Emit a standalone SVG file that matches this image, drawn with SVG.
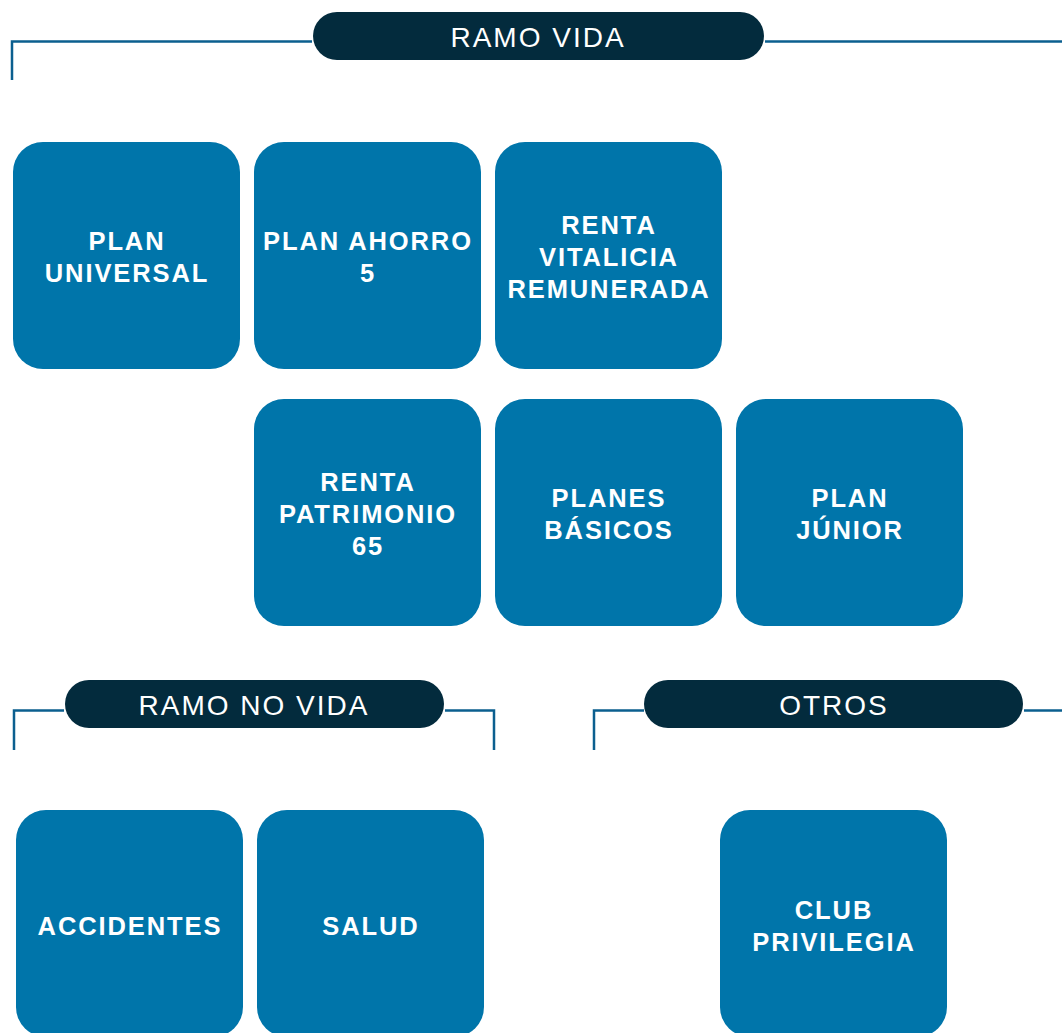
<svg xmlns="http://www.w3.org/2000/svg" width="1062" height="1033" viewBox="0 0 1062 1033">
<style>
.box{fill:#0075aa}
.pill{fill:#032b3d}
.ln{fill:none;stroke:#0b5f8f;stroke-width:2.5}
.lbl{font-family:"Liberation Sans",Arial,sans-serif;font-weight:bold;font-size:25.5px;fill:#fff;text-anchor:middle;letter-spacing:1.9px}
.hd{font-family:"Liberation Sans",Arial,sans-serif;font-size:28px;fill:#fff;text-anchor:middle;letter-spacing:2px}
</style>
<rect width="1062" height="1033" fill="#fff"/>
<g id="connectors">
<path class="ln" d="M12,80 V41.5 H312"/>
<path class="ln" d="M765,41.5 H1062"/>
<path class="ln" d="M14,750 V710.5 H64"/>
<path class="ln" d="M445,710.5 H494 V750"/>
<path class="ln" d="M594,750 V710.5 H644"/>
<path class="ln" d="M1024,710.5 H1062"/>
</g>
<g id="hdr-ramo-vida"><rect class="pill" x="313" y="12" width="451" height="48" rx="24"/><text class="hd" x="538" y="47">RAMO VIDA</text></g>
<g id="hdr-ramo-no-vida"><rect class="pill" x="65" y="680" width="379" height="48" rx="24"/><text class="hd" x="254" y="715">RAMO NO VIDA</text></g>
<g id="hdr-otros"><rect class="pill" x="644" y="680" width="379" height="48" rx="24"/><text class="hd" x="834" y="715">OTROS</text></g>
<g id="plan-universal"><rect class="box" x="13" y="142" width="227" height="227" rx="30"/><text class="lbl" x="127" y="250">PLAN</text><text class="lbl" x="127" y="282">UNIVERSAL</text></g>
<g id="plan-ahorro-5"><rect class="box" x="254" y="142" width="227" height="227" rx="30"/><text class="lbl" x="368" y="250">PLAN AHORRO</text><text class="lbl" x="368" y="282">5</text></g>
<g id="renta-vitalicia"><rect class="box" x="495" y="142" width="227" height="227" rx="30"/><text class="lbl" x="609" y="234">RENTA</text><text class="lbl" x="609" y="266">VITALICIA</text><text class="lbl" x="609" y="298">REMUNERADA</text></g>
<g id="renta-patrimonio"><rect class="box" x="254" y="399" width="227" height="227" rx="30"/><text class="lbl" x="368" y="491">RENTA</text><text class="lbl" x="368" y="523">PATRIMONIO</text><text class="lbl" x="368" y="555">65</text></g>
<g id="planes-basicos"><rect class="box" x="495" y="399" width="227" height="227" rx="30"/><text class="lbl" x="609" y="507">PLANES</text><text class="lbl" x="609" y="539">BÁSICOS</text></g>
<g id="plan-junior"><rect class="box" x="736" y="399" width="227" height="227" rx="30"/><text class="lbl" x="850" y="507">PLAN</text><text class="lbl" x="850" y="539">JÚNIOR</text></g>
<g id="accidentes"><rect class="box" x="16" y="810" width="227" height="227" rx="30"/><text class="lbl" x="130" y="935">ACCIDENTES</text></g>
<g id="salud"><rect class="box" x="257" y="810" width="227" height="227" rx="30"/><text class="lbl" x="371" y="935">SALUD</text></g>
<g id="club-privilegia"><rect class="box" x="720" y="810" width="227" height="227" rx="30"/><text class="lbl" x="834" y="919">CLUB</text><text class="lbl" x="834" y="951">PRIVILEGIA</text></g>
</svg>
